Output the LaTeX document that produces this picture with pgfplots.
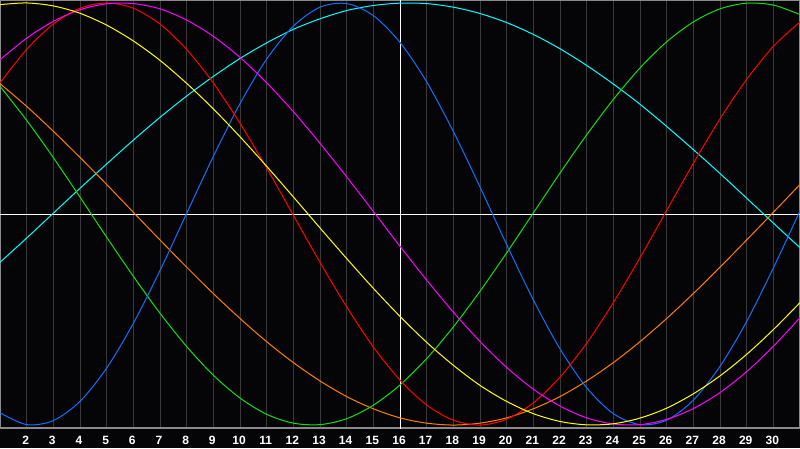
\documentclass[border=0pt]{standalone}
\usepackage{fontspec}
\setmainfont{Liberation Sans}
\usepackage{pgfplots}
\pgfplotsset{compat=1.18}
\definecolor{bg}{HTML}{050508}
\definecolor{gridc}{HTML}{3A3A3A}
\definecolor{framec}{HTML}{8A8A8A}
\definecolor{cyel}{HTML}{FFFF00}
\definecolor{cmag}{HTML}{FF00FF}
\definecolor{cred}{HTML}{FF0000}
\definecolor{cgrn}{HTML}{10E010}
\definecolor{corg}{HTML}{FF8000}
\definecolor{ccyn}{HTML}{00FFFF}
\definecolor{cblu}{HTML}{1070FF}
\begin{document}
\begin{tikzpicture}
\fill[bg] (0,-20pt) rectangle (800pt,428pt);
\begin{axis}[
  at={(0,0)}, anchor=south west,
  scale only axis, width=800pt, height=428pt,
  xmin=1, xmax=31, ymin=-1.014, ymax=1.014,
  xtick={2,...,30}, ytick=\empty,
  extra y ticks={0}, extra y tick labels={},
  extra y tick style={grid=major, major grid style={white, line width=1pt}},
  major tick length=0pt,
  xmajorgrids,
  major grid style={gridc, line width=1pt},
  axis line style={framec, line width=1.5pt},
  /pgf/number format/assume math mode=true,
  xticklabel style={white, font=\fontsize{12}{12}\selectfont\bfseries, anchor=north, inner sep=0pt, yshift=-8pt, xshift=-1pt},
  every axis plot/.append style={line width=1pt, smooth, no markers},
  clip=true,
]
\draw[white, line width=1pt] (axis cs:16,-1.1) -- (axis cs:16,1.1);
% cyan
\addplot[ccyn] coordinates {(1,-0.229)(2,-0.114)(3,0.004)(4,0.122)(5,0.237)(6,0.350)(7,0.458)(8,0.559)(9,0.652)(10,0.737)(11,0.811)(12,0.875)(13,0.925)(14,0.964)(15,0.988)(16,0.999)(17,0.997)(18,0.980)(19,0.950)(20,0.907)(21,0.851)(22,0.783)(23,0.704)(24,0.616)(25,0.520)(26,0.415)(27,0.305)(28,0.192)(29,0.075)(30,-0.043)(31,-0.160)};
% orange
\addplot[corg] coordinates {(1,0.618)(2,0.510)(3,0.392)(4,0.268)(5,0.140)(6,0.008)(7,-0.123)(8,-0.252)(9,-0.377)(10,-0.495)(11,-0.605)(12,-0.704)(13,-0.791)(14,-0.865)(15,-0.923)(16,-0.966)(17,-0.991)(18,-1.000)(19,-0.991)(20,-0.966)(21,-0.923)(22,-0.865)(23,-0.791)(24,-0.704)(25,-0.605)(26,-0.495)(27,-0.377)(28,-0.252)(29,-0.123)(30,0.008)(31,0.140)};
% green
\addplot[cgrn] coordinates {(1,0.605)(2,0.444)(3,0.267)(4,0.080)(5,-0.110)(6,-0.295)(7,-0.470)(8,-0.628)(9,-0.764)(10,-0.872)(11,-0.949)(12,-0.991)(13,-0.998)(14,-0.970)(15,-0.906)(16,-0.810)(17,-0.685)(18,-0.535)(19,-0.366)(20,-0.184)(21,0.005)(22,0.194)(23,0.375)(24,0.543)(25,0.692)(26,0.816)(27,0.910)(28,0.972)(29,0.999)(30,0.990)(31,0.945)};
% blue
\addplot[cblu] coordinates {(1,-0.942)(2,-0.998)(3,-0.979)(4,-0.888)(5,-0.730)(6,-0.518)(7,-0.268)(8,0.003)(9,0.273)(10,0.523)(11,0.734)(12,0.890)(13,0.980)(14,0.997)(15,0.940)(16,0.813)(17,0.626)(18,0.391)(19,0.128)(20,-0.145)(21,-0.407)(22,-0.639)(23,-0.823)(24,-0.946)(25,-0.998)(26,-0.977)(27,-0.882)(28,-0.722)(29,-0.509)(30,-0.256)(31,0.015)};
% red
\addplot[cred] coordinates {(1,0.621)(2,0.780)(3,0.900)(4,0.975)(5,1.000)(6,0.975)(7,0.900)(8,0.780)(9,0.621)(10,0.430)(11,0.218)(12,-0.006)(13,-0.229)(14,-0.440)(15,-0.630)(16,-0.787)(17,-0.905)(18,-0.977)(19,-1.000)(20,-0.972)(21,-0.895)(22,-0.773)(23,-0.612)(24,-0.420)(25,-0.207)(26,0.017)(27,0.240)(28,0.451)(29,0.638)(30,0.794)(31,0.910)};
% magenta
\addplot[cmag] coordinates {(1,0.731)(2,0.833)(3,0.913)(4,0.968)(5,0.996)(6,0.997)(7,0.972)(8,0.919)(9,0.842)(10,0.742)(11,0.622)(12,0.485)(13,0.335)(14,0.176)(15,0.012)(16,-0.153)(17,-0.313)(18,-0.465)(19,-0.604)(20,-0.727)(21,-0.830)(22,-0.910)(23,-0.966)(24,-0.995)(25,-0.998)(26,-0.973)(27,-0.922)(28,-0.846)(29,-0.747)(30,-0.627)(31,-0.491)};
% yellow
\addplot[cyel] coordinates {(1,0.992)(2,1.000)(3,0.986)(4,0.951)(5,0.895)(6,0.820)(7,0.728)(8,0.619)(9,0.498)(10,0.366)(11,0.226)(12,0.081)(13,-0.066)(14,-0.211)(15,-0.352)(16,-0.485)(17,-0.608)(18,-0.717)(19,-0.812)(20,-0.888)(21,-0.946)(22,-0.983)(23,-0.999)(24,-0.994)(25,-0.967)(26,-0.920)(27,-0.852)(28,-0.767)(29,-0.665)(30,-0.548)(31,-0.420)};
\end{axis}
\pgfresetboundingbox
\path (0,-20pt) rectangle (800pt,428pt);
\end{tikzpicture}
\end{document}
